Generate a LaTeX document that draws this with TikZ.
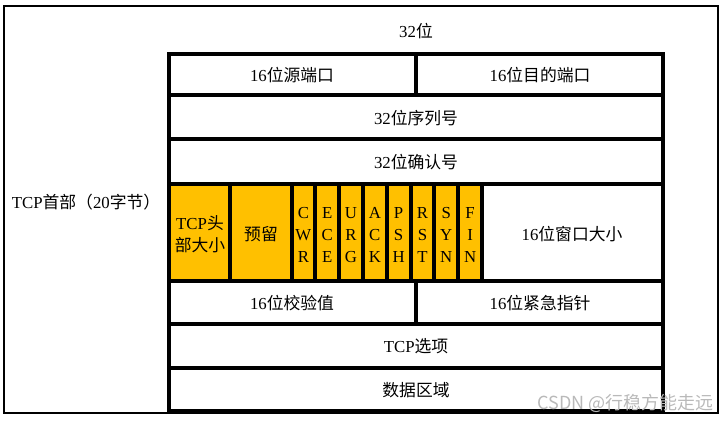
\documentclass[tikz,border=0pt]{standalone}
\usepackage{fontspec}
\setmainfont{Liberation Serif}
\newfontfamily\cjk{Noto Sans CJK SC}
\newfontfamily\wmfont{Noto Sans CJK SC}
\definecolor{flagorange}{HTML}{FFC000}

\begin{document}
\begin{tikzpicture}[x=0.75pt,y=-0.75pt,
  frame/.style={line width=1.8pt},
  grid/.style={line width=3pt},
  lbl/.style={font=\fontsize{12.6}{16.2}\selectfont, inner sep=0pt, align=center},
  wmark/.style={font=\wmfont\fontsize{13.5}{15}\selectfont, text=gray!55, inner sep=0pt}]

  \useasboundingbox (0,0) rectangle (727,422);

  % orange header fields
  \fill[flagorange] (169,184) rectangle (482,281);

  % outer frame
  \draw[frame] (4,6) rectangle (718,413);

  % table rows
  \draw[grid] (169,54) rectangle (663,411);
  \foreach \y in {95,139,184,281,324,368}
    \draw[grid] (169,\y) -- (663,\y);
  \draw[grid] (416,54) -- (416,95);
  \draw[grid] (416,281) -- (416,324);

  % flag columns
  \draw[grid] (230,184) -- (230,281);
  \foreach \i in {0,...,8}
    \draw[grid] ({291.5+23.81*\i},184) -- ({291.5+23.81*\i},281);

  \node[lbl] (bits) at (416,31) {32{\cjk 位}};
  \node[lbl] (hdr) at (86,202) {TCP{\cjk 首部（}20{\cjk 字节）}};

  \node[lbl] (srcport) at (292,75) {16{\cjk 位源端口}};
  \node[lbl] (dstport) at (540,75) {16{\cjk 位目的端口}};
  \node[lbl] (seq) at (416,118) {32{\cjk 位序列号}};
  \node[lbl] (ack) at (416,162) {32{\cjk 位确认号}};

  \node[lbl] (hlen) at (200,234) {TCP{\cjk 头}\\{\cjk 部大小}};
  \node[lbl] (rsv) at (261,234) {\cjk 预留};
  \foreach \f/\a/\b/\c [count=\i] in {cwr/C/W/R, ece/E/C/E, urg/U/R/G,
      ackf/A/C/K, psh/P/S/H, rst/R/S/T, syn/S/Y/N, fin/F/I/N}
    \node[lbl] (\f) at ({291.5+23.81*(\i-0.5)},235) {\a\\\b\\\c};
  \node[lbl] (win) at (572,234) {16{\cjk 位窗口大小}};

  \node[lbl] (csum) at (292,303) {16{\cjk 位校验值}};
  \node[lbl] (urgptr) at (540,303) {16{\cjk 位紧急指针}};
  \node[lbl] (opts) at (416,346) {TCP{\cjk 选项}};
  \node[lbl] (data) at (416,390) {\cjk 数据区域};

  \node[wmark, anchor=east] (wm) at (714,403) {CSDN @行稳方能走远};

\end{tikzpicture}
\end{document}
